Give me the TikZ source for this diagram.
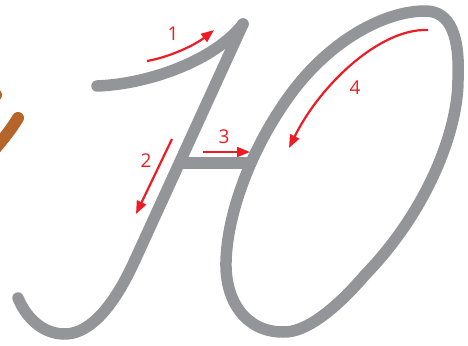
\documentclass[tikz,border=0pt]{standalone}
\usepackage{fontspec}
\setmainfont{Open Sans}
\usetikzlibrary{arrows.meta}
\definecolor{strokegray}{HTML}{939598}
\definecolor{arrowred}{HTML}{ED1C24}
\definecolor{prevorange}{HTML}{B5652A}
\tikzset{
  letter/.style={draw=strokegray, line width=11.5pt, line cap=round, line join=round},
  guide/.style={draw=arrowred, line width=2.2pt, -{Triangle[length=13pt,width=10pt]}},
  num/.style={text=arrowred, font=\fontsize{19}{19}\selectfont, inner sep=0pt}
}
\begin{document}
\begin{tikzpicture}[x=1pt,y=-1pt]
\useasboundingbox (0,0) rectangle (468,345);
% previous letter fragment
\draw[draw=prevorange, line width=12pt, line cap=round] (18,118) .. controls (12,128) and (5,137) .. (-6,150);
\draw[draw=prevorange, line width=12pt, line cap=round] (-12,84) -- (-4,95);
% stroke 1
\draw[letter] (97,86) .. controls (150,84) and (215,60) .. (243,24);
% stroke 2
\draw[letter] (243,24) -- (135,260) .. controls (110,315) and (85,335) .. (63,334) .. controls (40,333) and (25,315) .. (18,298);
% stroke 3 (bar)
\draw[letter, line cap=butt] (179,163) -- (250,163);
% stroke 4 (oval)
\draw[letter] (425,11) .. controls (450,11) and (460,35) .. (458,80)
  .. controls (458,130) and (428,210) .. (365,275)
  .. controls (335,310) and (305,333) .. (283,332)
  .. controls (245,332) and (225,300) .. (226,262)
  .. controls (227,215) and (250,150) .. (290,95)
  .. controls (330,40) and (385,11) .. cycle;
% guide arrows
\coordinate (a1s) at (147,61); \coordinate (a1e) at (214,30);
\draw[guide] (a1s) .. controls (170,57) and (195,45) .. (a1e);
\coordinate (a2s) at (172,139); \coordinate (a2e) at (136,214);
\draw[guide] (a2s) -- (a2e);
\coordinate (a3s) at (203,152); \coordinate (a3e) at (250,152);
\draw[guide] (a3s) -- (a3e);
\coordinate (a4s) at (428,30); \coordinate (a4e) at (289,148);
\draw[guide] (a4s) .. controls (380,28) and (320,85) .. (a4e);
% labels
\node[num] (n1) at (173,34) {1};
\node[num] (n2) at (146,161) {2};
\node[num] (n3) at (224,137) {3};
\node[num] (n4) at (355,88) {4};
\end{tikzpicture}
\end{document}
